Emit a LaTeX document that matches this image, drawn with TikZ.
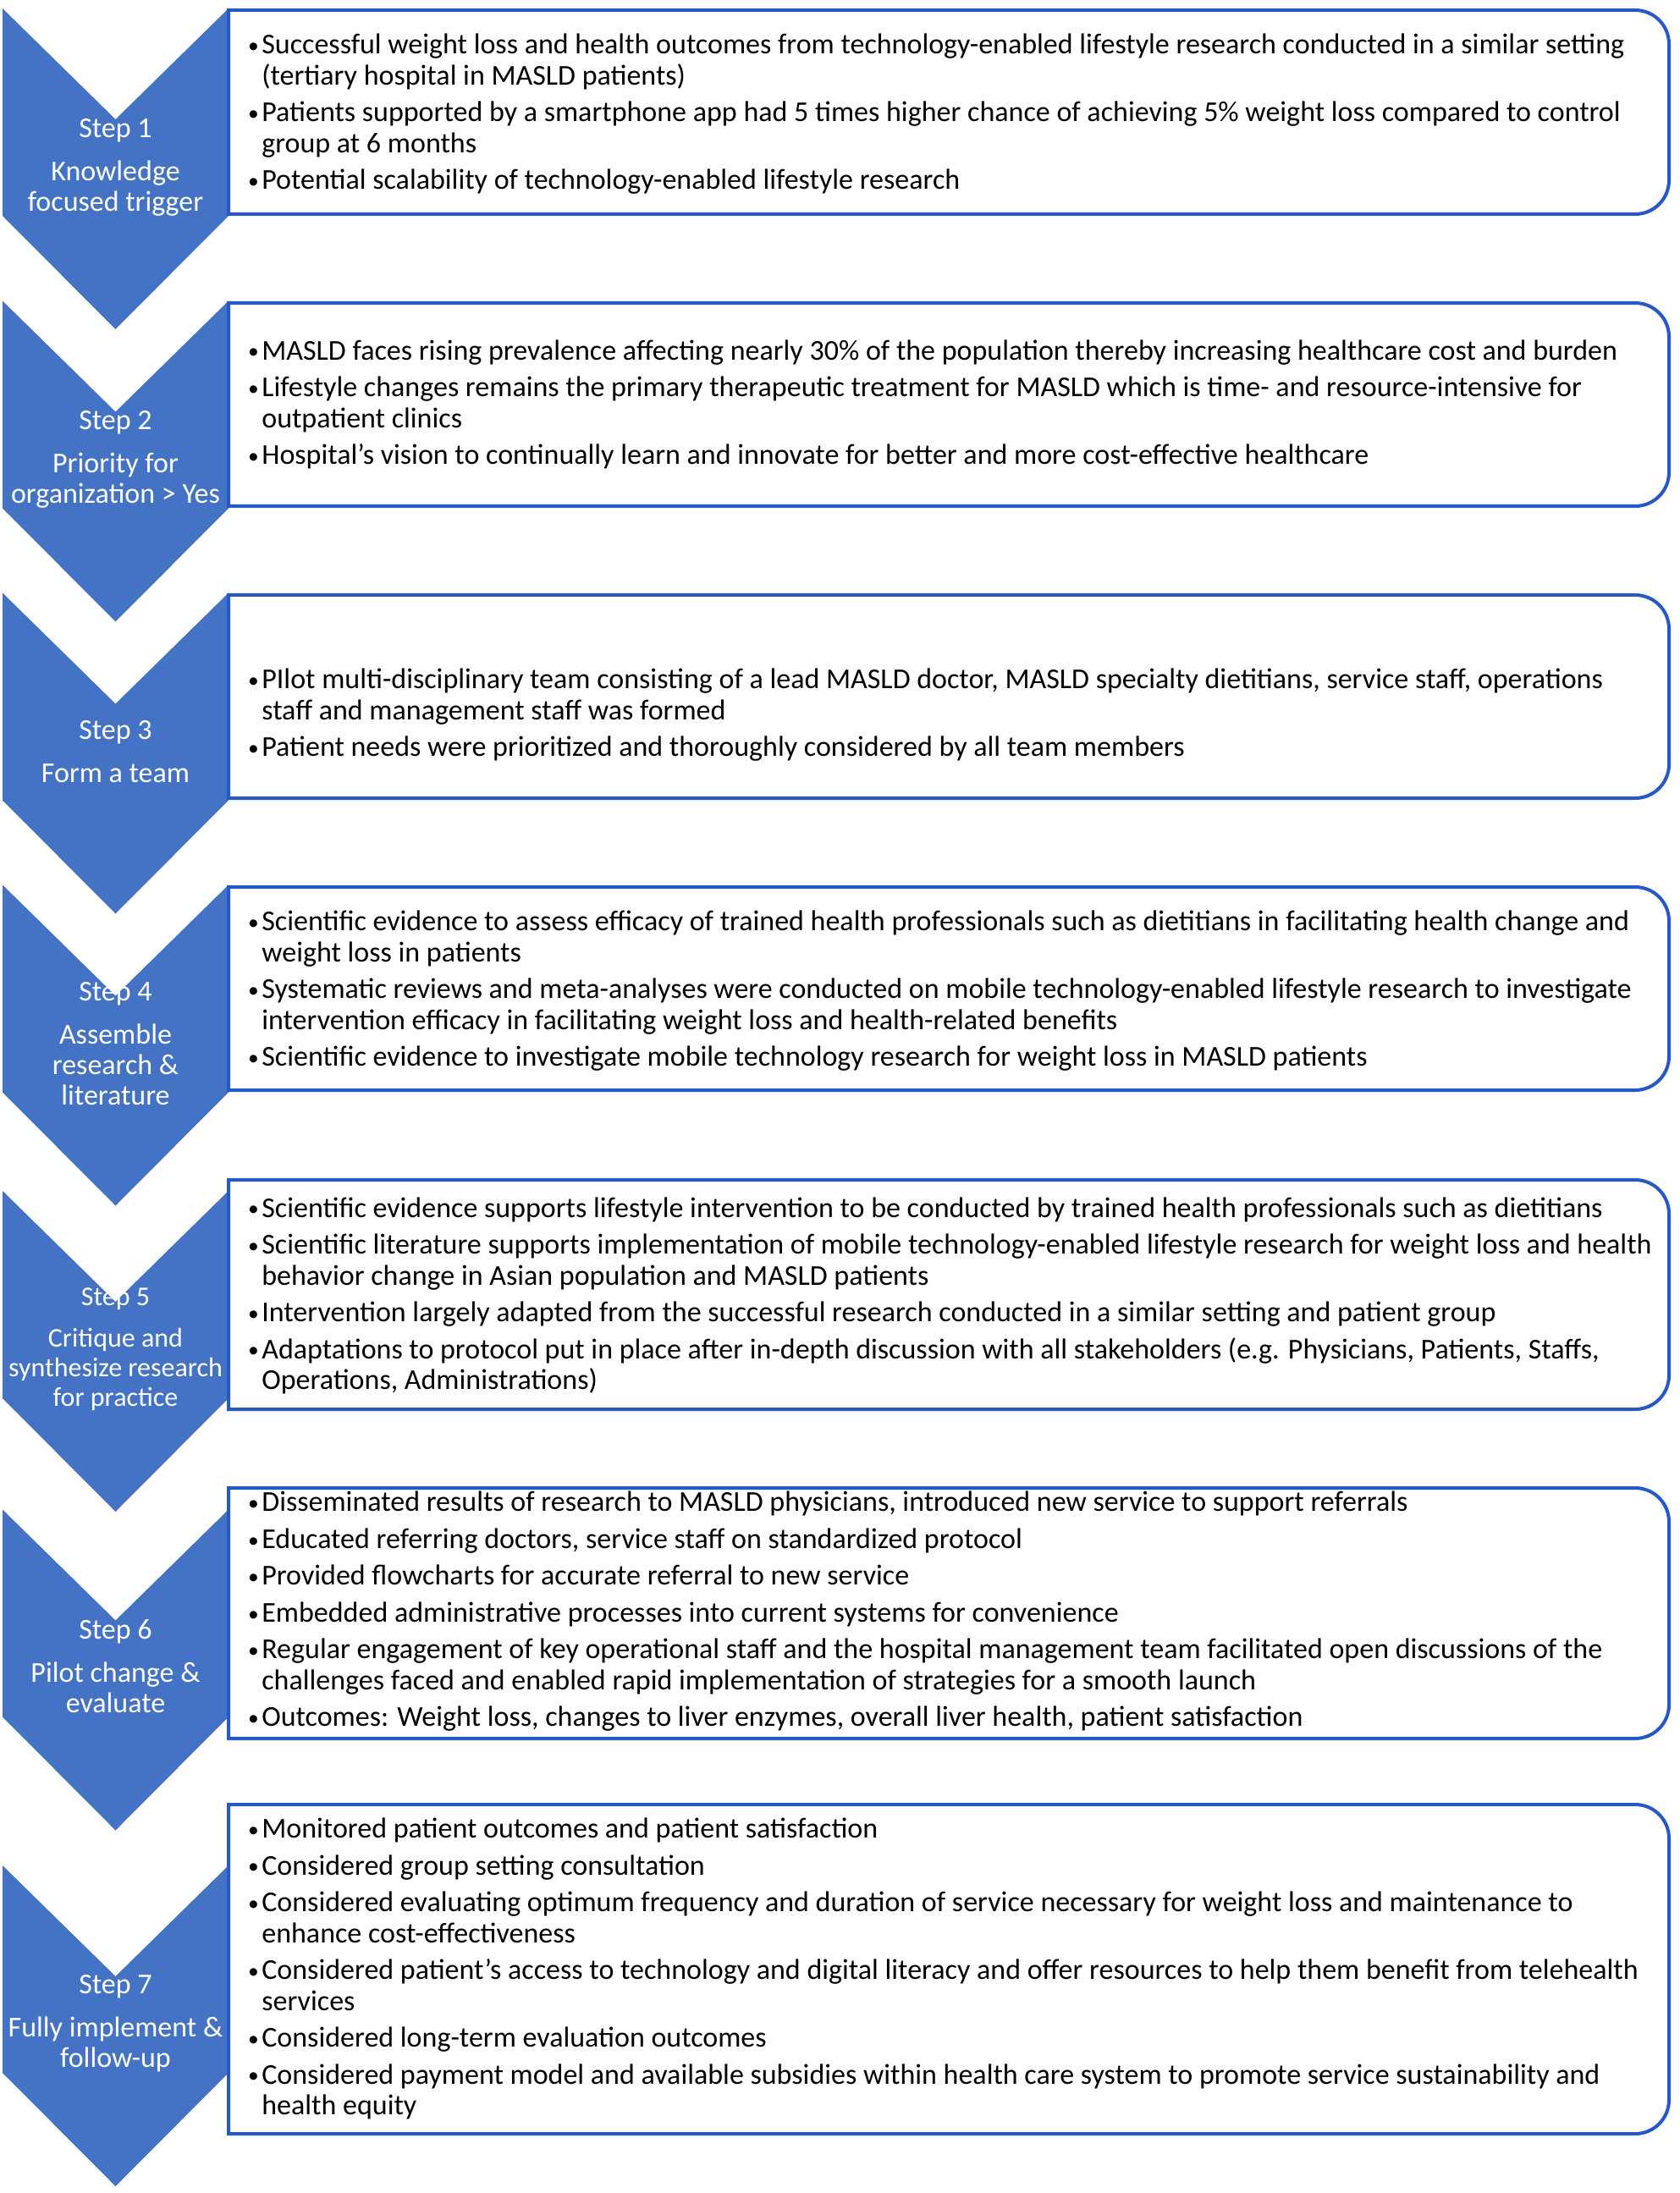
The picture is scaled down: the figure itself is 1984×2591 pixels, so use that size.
\documentclass[tikz,border=0pt]{standalone}
\usepackage{fontspec}
\setmainfont{Carlito}
\definecolor{chevblue}{RGB}{68,114,196}
\definecolor{frameblue}{RGB}{38,88,200}
\newcommand{\itm}{\makebox[4.4pt][l]{\kern-0.5pt\raisebox{0.4pt}{\scalebox{0.75}{\textbullet}}}}
\newcommand{\cnt}{\hspace*{4.4pt}}
\newcommand{\gap}{\\[2.1pt]}
\begin{document}
\begin{tikzpicture}[
  x=0.3pt, y=-0.3pt,
  chev/.style={fill=chevblue},
  frame/.style={draw=frameblue, line width=1.2pt},
  txt/.style={anchor=west, align=left, inner sep=0pt,
    font=\fontsize{10.2}{10.95}\selectfont},
  steplbl/.style={align=center, inner sep=0pt, text=white,
    font=\fontsize{10.2}{10.8}\selectfont}
]
  \useasboundingbox (0,0) rectangle (1984,2591);
  % chevrons and framed boxes, one per step
  \foreach \i/\t/\b in {1/12/253, 2/358/598, 3/703/943, 4/1048/1288,
                        5/1394/1665, 6/1758/2054, 7/2132/2521} {
    \pgfmathsetmacro\c{(\t+\b)/2}
    \fill[chev] (3,\c-122.5) -- (136.5,\c+8.5) -- (270,\c-122.5)
      -- (270,\c+122.5) -- (136.5,\c+256.5) -- (3,\c+122.5) -- cycle;
    \draw[frame] (270,\t) -- (1932,\t) arc[start angle=90, end angle=0, radius=12pt]
      -- (1972,\b-40) arc[start angle=0, end angle=-90, radius=12pt]
      -- (270,\b) -- cycle;
  }

  % step labels
  \node[steplbl] (s1) at (136.5,198) {Step 1\\[4.5pt]Knowledge\\focused trigger};
  \node[steplbl] (s2) at (136.5,543) {Step 2\\[4.5pt]Priority for\\organization > Yes};
  \node[steplbl] (s3) at (136.5,888) {Step 3\\[4.5pt]Form a team};
  \node[steplbl] (s4) at (136.5,1233) {Step 4\\[4.5pt]Assemble\\research \&\\literature};
  \node[steplbl, font=\fontsize{9.6}{10.4}\selectfont] (s5) at (136.5,1594)
    {Step 5\\[4.5pt]Critique and\\synthesize research\\for practice};
  \node[steplbl] (s6) at (136.5,1969) {Step 6\\[4.5pt]Pilot change \&\\evaluate};
  \node[steplbl] (s7) at (136.5,2391) {Step 7\\[4.5pt]Fully implement \&\\follow-up};

  % box texts
  \node[txt] (t1) at (294,135) {%
    \itm Successful weight loss and health outcomes from technology-enabled lifestyle research conducted in a similar setting\\
    \cnt(tertiary hospital in MASLD patients)\gap
    \itm Patients supported by a smartphone app had 5 times higher chance of achieving 5\% weight loss compared to control\\
    \cnt group at 6 months\gap
    \itm Potential scalability of technology-enabled lifestyle research};
  \node[txt] (t2) at (294,478) {%
    \itm MASLD faces rising prevalence affecting nearly 30\% of the population thereby increasing healthcare cost and burden\gap
    \itm Lifestyle changes remains the primary therapeutic treatment for MASLD which is time- and resource-intensive for\\
    \cnt outpatient clinics\gap
    \itm Hospital's vision to continually learn and innovate for better and more cost-effective healthcare};
  \node[txt] (t3) at (294,845) {%
    \itm PIlot multi-disciplinary team consisting of a lead MASLD doctor, MASLD specialty dietitians, service staff, operations\\
    \cnt staff and management staff was formed\gap
    \itm Patient needs were prioritized and thoroughly considered by all team members};
  \node[txt] (t4) at (294,1171) {%
    \itm Scientific evidence to assess efficacy of trained health professionals such as dietitians in facilitating health change and\\
    \cnt weight loss in patients\gap
    \itm Systematic reviews and meta-analyses were conducted on mobile technology-enabled lifestyle research to investigate\\
    \cnt intervention efficacy in facilitating weight loss and health-related benefits\gap
    \itm Scientific evidence to investigate mobile technology research for weight loss in MASLD patients};
  \node[txt] (t5) at (294,1531) {%
    \itm Scientific evidence supports lifestyle intervention to be conducted by trained health professionals such as dietitians\gap
    \itm Scientific literature supports implementation of mobile technology-enabled lifestyle research for weight loss and health\\
    \cnt behavior change in Asian population and MASLD patients\gap
    \itm Intervention largely adapted from the successful research conducted in a similar setting and patient group\gap
    \itm Adaptations to protocol put in place after in-depth discussion with all stakeholders (e.g. Physicians, Patients, Staffs,\\
    \cnt Operations, Administrations)};
  \node[txt] (t6) at (294,1904) {%
    \itm Disseminated results of research to MASLD physicians, introduced new service to support referrals\gap
    \itm Educated referring doctors, service staff on standardized protocol\gap
    \itm Provided flowcharts for accurate referral to new service\gap
    \itm Embedded administrative processes into current systems for convenience\gap
    \itm Regular engagement of key operational staff and the hospital management team facilitated open discussions of the\\
    \cnt challenges faced and enabled rapid implementation of strategies for a smooth launch\gap
    \itm Outcomes: Weight loss, changes to liver enzymes, overall liver health, patient satisfaction};
  \node[txt] (t7) at (294,2326) {%
    \itm Monitored patient outcomes and patient satisfaction\gap
    \itm Considered group setting consultation\gap
    \itm Considered evaluating optimum frequency and duration of service necessary for weight loss and maintenance to\\
    \cnt enhance cost-effectiveness\gap
    \itm Considered patient's access to technology and digital literacy and offer resources to help them benefit from telehealth\\
    \cnt services\gap
    \itm Considered long-term evaluation outcomes\gap
    \itm Considered payment model and available subsidies within health care system to promote service sustainability and\\
    \cnt health equity};
\end{tikzpicture}
\end{document}
